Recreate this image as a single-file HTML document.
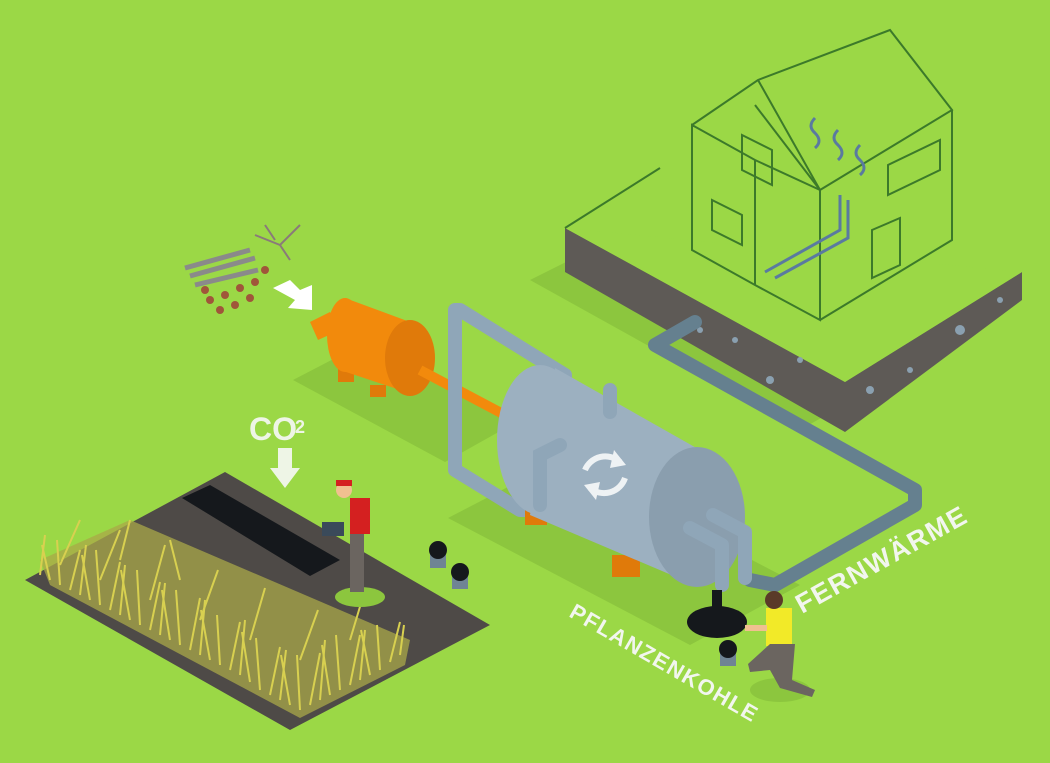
<!DOCTYPE html>
<html><head><meta charset="utf-8"><style>html,body{margin:0;padding:0;background:#9bd846}svg{display:block}</style></head><body>
<svg width="1050" height="763" viewBox="0 0 1050 763" xmlns="http://www.w3.org/2000/svg">
<rect width="1050" height="763" fill="#9bd846"/>
<!-- shadows -->
<polygon points="293,380 370,340 520,420 445,462" fill="#8cc63e"/>
<polygon points="448,518 560,460 800,585 690,645" fill="#8cc63e"/>
<polygon points="530,280 600,245 870,390 800,430" fill="#8cc63e"/>
<!-- house slab -->
<polygon points="565,228 845,382 1022,272 1022,300 845,432 565,272" fill="#5e5a56"/>
<polygon points="565,228 845,382 1022,272" fill="#9bd846"/>
<line x1="565" y1="228" x2="660" y2="168" stroke="#3c7a2a" stroke-width="2"/>
<g fill="#8aa0b0"><circle cx="770" cy="380" r="4"/><circle cx="800" cy="360" r="3"/><circle cx="870" cy="390" r="4"/><circle cx="910" cy="370" r="3"/><circle cx="960" cy="330" r="5"/><circle cx="1000" cy="300" r="3"/><circle cx="735" cy="340" r="3"/><circle cx="700" cy="330" r="3"/></g>
<!-- house outline -->
<g fill="none" stroke="#3c7a2a" stroke-width="2">
<polygon points="692,125 755,160 820,190 820,320 755,285 692,250"/>
<polyline points="692,125 758,80 890,30 952,110 820,190"/>
<polyline points="952,110 952,240 820,320"/>
<line x1="758" y1="80" x2="820" y2="190"/>
<line x1="755" y1="105" x2="820" y2="190"/>
<polygon points="742,135 772,150 772,185 742,170"/>
<polygon points="712,200 742,215 742,245 712,230"/>
<polygon points="888,165 940,140 940,170 888,195"/>
<polygon points="872,230 900,218 900,265 872,278"/>
<line x1="755" y1="160" x2="755" y2="285"/>
</g>
<g fill="none" stroke="#5a7aa0" stroke-width="3">
<path d="M815,118 q-8,8 0,15 q8,8 0,15"/><path d="M838,130 q-8,8 0,15 q8,8 0,15"/><path d="M860,145 q-8,8 0,15 q8,8 0,15"/>
<path d="M765,272 L840,230 L840,195"/><path d="M775,278 L848,238 L848,200"/>
</g>
<!-- dark pipe -->
<polyline points="695,322 655,345 915,490 915,505 775,585 750,580" fill="none" stroke="#65808f" stroke-width="14" stroke-linejoin="round" stroke-linecap="round"/>
<!-- orange reactor -->
<rect x="338" y="368" width="16" height="14" fill="#e07a0a"/><rect x="370" y="385" width="16" height="12" fill="#e07a0a"/>
<polygon points="310,322 330,312 340,330 318,340" fill="#f28a0c"/>
<polygon points="345,298 410,322 415,395 340,370" fill="#f28a0c"/>
<ellipse cx="345" cy="335" rx="18" ry="37" fill="#f28a0c"/>
<ellipse cx="410" cy="358" rx="25" ry="38" fill="#e07a0a"/>
<line x1="420" y1="370" x2="505" y2="415" stroke="#f28a0c" stroke-width="10"/>
<!-- light pipe loop -->
<polyline points="565,390 565,375 460,310 455,310 455,470 520,510 530,510 535,460 560,445" fill="none" stroke="#8fa6b8" stroke-width="14" stroke-linejoin="round" stroke-linecap="round"/>
<!-- tank -->
<rect x="525" y="505" width="22" height="20" fill="#e07a0a"/><rect x="612" y="555" width="28" height="22" fill="#e07a0a"/>
<polygon points="555,368 700,450 695,585 530,515" fill="#9cb0c0"/>
<ellipse cx="540" cy="440" rx="43" ry="75" fill="#9cb0c0"/>
<ellipse cx="697" cy="517" rx="48" ry="70" fill="#8a9eae"/>
<path d="M610,390 L610,412" stroke="#8fa6b8" stroke-width="14" stroke-linecap="round"/>
<path d="M560,445 L540,455 L540,505" stroke="#8fa6b8" stroke-width="14" stroke-linecap="round" fill="none"/>
<g fill="none" stroke="#eef2f4" stroke-width="6"><path d="M585,470 a22,22 0 0,1 35,-8"/><path d="M625,478 a22,22 0 0,1 -35,10"/></g>
<polygon points="614,450 626,465 610,468" fill="#eef2f4"/><polygon points="596,500 584,485 600,482" fill="#eef2f4"/>
<polyline points="690,528 722,545 722,585" fill="none" stroke="#8fa6b8" stroke-width="14" stroke-linecap="round" stroke-linejoin="round"/>
<polyline points="713,515 745,532 745,578" fill="none" stroke="#8fa6b8" stroke-width="14" stroke-linecap="round" stroke-linejoin="round"/>
<!-- biomass -->
<g stroke="#8a8a8a" stroke-width="5"><line x1="185" y1="268" x2="250" y2="250"/><line x1="190" y1="276" x2="255" y2="258"/><line x1="195" y1="285" x2="258" y2="270"/></g>
<g fill="none" stroke="#8a7a7a" stroke-width="2"><path d="M255,235 l25,10 l20,-20 M280,245 l10,15 M265,225 l10,15"/></g>
<g fill="#a0553a"><circle cx="210" cy="300" r="4"/><circle cx="225" cy="295" r="4"/><circle cx="240" cy="288" r="4"/><circle cx="255" cy="282" r="4"/><circle cx="220" cy="310" r="4"/><circle cx="235" cy="305" r="4"/><circle cx="250" cy="298" r="4"/><circle cx="265" cy="270" r="4"/><circle cx="205" cy="290" r="4"/></g>
<polygon points="273,288 290,280 300,290 312,285 312,310 288,308 295,300" fill="#ffffff"/>
<!-- CO2 -->
<text x="249" y="440" font-family="Liberation Sans, sans-serif" font-size="32" font-weight="bold" fill="#eef5e6">CO</text>
<text x="295" y="433" font-family="Liberation Sans, sans-serif" font-size="18" font-weight="bold" fill="#eef5e6">2</text>
<polygon points="278,448 292,448 292,468 300,468 285,488 270,468 278,468" fill="#eef5e6"/>
<!-- field -->
<polygon points="25,580 225,472 490,625 290,730" fill="#4e4a47"/>
<polygon points="182,498 210,485 340,560 310,576" fill="#15181c"/>
<polygon points="40,560 130,520 410,640 405,665 300,718 50,585" fill="#a9a848" opacity="0.75"/>
<g stroke="#d8d050" stroke-width="2">
<path d="M40,575 l5,-40 M60,585 l-3,-45 M80,595 l6,-50 M100,605 l-4,-55 M120,615 l5,-50 M140,625 l-3,-55 M160,635 l5,-52 M180,645 l-4,-55 M200,655 l5,-55 M220,665 l-3,-50 M240,675 l5,-55 M260,690 l-4,-52 M280,700 l6,-50 M300,710 l-3,-55 M320,700 l5,-60 M340,690 l-4,-55 M360,680 l5,-50 M380,670 l-3,-45 M400,655 l4,-30"/>
<path d="M50,580 l-8,-35 M70,590 l10,-40 M90,600 l-8,-45 M110,610 l10,-48 M130,620 l-9,-50 M150,630 l10,-48 M170,640 l-8,-50 M190,650 l10,-52 M210,660 l-9,-50 M230,670 l10,-48 M250,682 l-8,-50 M270,695 l10,-48 M290,705 l-9,-50 M310,705 l10,-52 M330,695 l-8,-50 M350,685 l10,-50 M370,675 l-9,-45 M390,662 l10,-40"/>
<path d="M60,565 l20,-45 M100,580 l20,-50 M150,600 l15,-55 M200,620 l18,-50 M250,640 l15,-52 M300,660 l18,-50 M350,640 l12,-40 M120,560 l10,-40 M180,580 l-10,-40"/>
</g>
<!-- man -->
<ellipse cx="360" cy="597" rx="25" ry="10" fill="#8cc63e"/>
<rect x="350" y="530" width="14" height="62" fill="#6b6560"/>
<rect x="350" y="498" width="20" height="36" fill="#d42020"/>
<circle cx="344" cy="490" r="8" fill="#f0c090"/>
<rect x="336" y="480" width="16" height="6" fill="#d42020"/>
<rect x="322" y="522" width="22" height="14" fill="#3a4a5a"/>
<!-- buckets -->
<g fill="#6f8494"><rect x="430" y="552" width="16" height="16"/><rect x="452" y="573" width="16" height="16"/><rect x="720" y="650" width="16" height="16"/></g>
<g fill="#15181c"><circle cx="438" cy="550" r="9"/><circle cx="460" cy="572" r="9"/><circle cx="728" cy="649" r="9"/></g>
<!-- biochar pile -->
<ellipse cx="717" cy="622" rx="30" ry="16" fill="#15181c"/><rect x="712" y="590" width="10" height="20" fill="#15181c"/>
<!-- woman -->
<ellipse cx="780" cy="690" rx="30" ry="12" fill="#8cc63e"/>
<rect x="766" y="608" width="26" height="38" fill="#f2ea28"/>
<polygon points="770,644 795,644 792,680 815,690 812,697 780,688 770,670 750,672 748,664" fill="#6b6560"/>
<circle cx="774" cy="600" r="9" fill="#5a3a28"/>
<rect x="745" y="625" width="22" height="6" fill="#f0c090"/>
<!-- labels -->
<text transform="translate(802,614) rotate(-29)" font-family="Liberation Sans, sans-serif" font-size="27" font-weight="bold" fill="#f2f6ee" letter-spacing="1.5">FERNWÄRME</text>
<text transform="translate(568,616) rotate(30)" font-family="Liberation Sans, sans-serif" font-size="22" font-weight="bold" fill="#f2f6ee" letter-spacing="1.5">PFLANZENKOHLE</text>
</svg>
</body></html>
